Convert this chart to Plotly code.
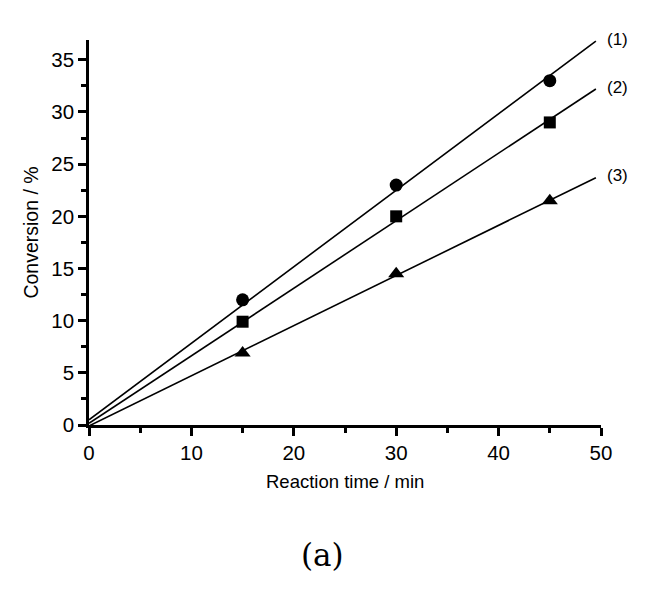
import numpy as np
import plotly.graph_objects as go

# Data
time_min = [15, 30, 45]
conv_1 = [12.0, 23.0, 33.0]
conv_2 = [9.9, 20.0, 29.0]
conv_3 = [6.9, 14.5, 21.5]
series_labels = ["(1)", "(2)", "(3)"]
fit_x_end = 49.5

x_ticks = [0, 10, 20, 30, 40, 50]
y_ticks = [0, 5, 10, 15, 20, 25, 30, 35]
X_MAX = 50
Y_MAX = 36.9

SANS = "Liberation Sans, Arial, sans-serif"

fig = go.Figure()
symbols = ["circle", "square", "triangle-up"]
sizes = [13, 12, 14]
for ys, sym, sz, lab in zip([conv_1, conv_2, conv_3], symbols, sizes, series_labels):
    xf = np.array([0] + time_min, dtype=float)
    yf = np.array([0] + ys, dtype=float)
    k, b = np.polyfit(xf, yf, 1)
    lx = np.array([0.0, fit_x_end])
    fig.add_trace(go.Scatter(x=lx, y=k * lx + b, mode="lines",
                             line=dict(color="black", width=1.6),
                             showlegend=False, hoverinfo="skip", cliponaxis=False))
    fig.add_trace(go.Scatter(x=time_min, y=ys, mode="markers",
                             marker=dict(symbol=sym, size=sz, color="black"),
                             showlegend=False, cliponaxis=False))
    y_end = k * fit_x_end + b
    fig.add_annotation(x=1.033, xref="paper", y=y_end / Y_MAX + 0.005, yref="paper",
                       text=lab, showarrow=False, xanchor="center", yanchor="middle",
                       font=dict(family=SANS, size=17, color="black"))

fig.add_annotation(x=0.5, xref="paper", y=-0.1455, yref="paper", text="Reaction time / min",
                   showarrow=False, xanchor="center", yanchor="middle",
                   font=dict(family=SANS, size=18.5, color="black"))
fig.add_annotation(x=-0.115, xref="paper", y=0.5, yref="paper", text="Conversion / %",
                   textangle=-90, showarrow=False, xanchor="center", yanchor="middle",
                   font=dict(family=SANS, size=19.5, color="black"))
fig.add_annotation(x=0.457, xref="paper", y=-0.3377, yref="paper", text="(a)",
                   showarrow=False, xanchor="center", yanchor="middle",
                   font=dict(family="DejaVu Serif, Liberation Serif, serif", size=31, color="black"))

axis_common = dict(showline=True, linecolor="black", linewidth=2.5, ticks="outside",
                   ticklen=8, tickwidth=2.5, tickcolor="black", showgrid=False,
                   zeroline=False, mirror=False, automargin=False,
                   tickfont=dict(family=SANS, size=20.5, color="black"))

fig.update_xaxes(range=[0, X_MAX], tickvals=x_ticks,
                 minor=dict(ticks="outside", ticklen=5, tickwidth=2.5, tickcolor="black", dtick=5, tick0=0),
                 **axis_common)
fig.update_yaxes(range=[0, Y_MAX], tickvals=y_ticks,
                 minor=dict(ticks="outside", ticklen=5, tickwidth=2.5, tickcolor="black", dtick=2.5, tick0=0),
                 **axis_common)

# page body has an 8px default margin, so the figure is sized to fit inside it
fig.update_layout(width=645, height=575, plot_bgcolor="white", paper_bgcolor="white",
                  margin=dict(l=81, r=52, t=32, b=158), showlegend=False)

fig.write_html("out.html")
